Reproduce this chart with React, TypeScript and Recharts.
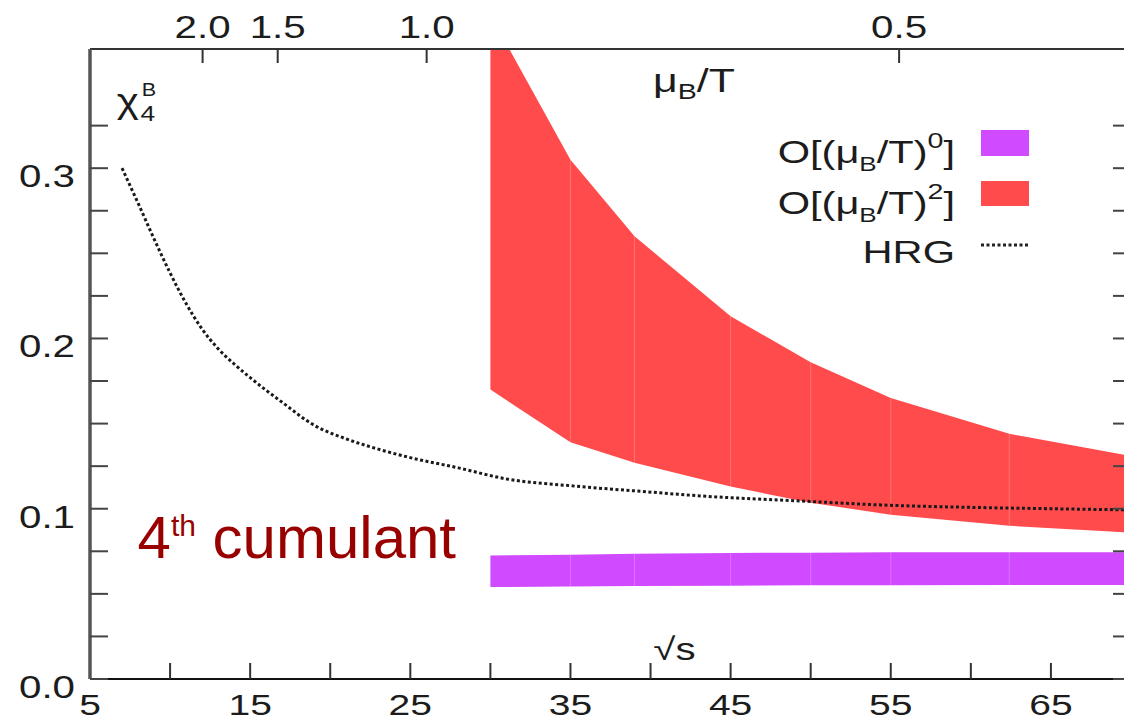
import { ComposedChart, Area, Line, XAxis, YAxis, Legend, ReferenceLine } from 'recharts';

// sqrt(s) grid of the lattice bands
const sqrtS = [30, 35, 39, 45, 50, 55, 62.4, 70];
// O[(muB/T)^2] band
const lo2 = [0.17, 0.139, 0.127, 0.113, 0.1035, 0.0965, 0.09, 0.086];
const hi2 = [0.39, 0.305, 0.26, 0.213, 0.186, 0.165, 0.144, 0.131];
// O[(muB/T)^0] band
const lo0 = [0.054, 0.0543, 0.0546, 0.0548, 0.055, 0.0551, 0.0552, 0.0552];
const hi0 = [0.0725, 0.073, 0.0735, 0.074, 0.0742, 0.0744, 0.0745, 0.0745];

// HRG curve
const hrgS = [7, 8, 9, 10, 11, 12, 13, 14, 15, 17, 19, 21, 23, 25, 28, 31, 35, 39, 44, 49, 55, 60, 65, 70];
const hrgChi = [0.3, 0.2795, 0.2585, 0.2385, 0.2205, 0.2055, 0.194, 0.185, 0.177, 0.1625, 0.149, 0.141, 0.135, 0.13, 0.124, 0.1175, 0.1135, 0.1105, 0.107, 0.1047, 0.102, 0.1008, 0.1, 0.0993];

// axes
const xTicks = [5, 10, 15, 20, 25, 30, 35, 40, 45, 50, 55, 60, 65];
const muLabels = ['2.0', '1.5', '1.0', '0.5'];
const muTickS = [12.03, 16.72, 26.02, 55.52];
const yTicks = [0, 0.025, 0.05, 0.075, 0.1, 0.125, 0.15, 0.175, 0.2, 0.225, 0.25, 0.275, 0.3, 0.325];

const W = 1124;
const H = 714;
const FONT = '"Liberation Sans", Arial, Helvetica, sans-serif';
const SX = 1.3; // the figure text is stretched horizontally
const RED = '#ff4b4c';
const PURPLE = '#d04bff';
const INK = '#1c1c1c';

const bandData = sqrtS.map((s, i) => ({ s, o0: [lo0[i], hi0[i]], o2: [lo2[i], hi2[i]] }));
const hrgData = hrgS.map((s, i) => ({ s, chi: hrgChi[i] }));

function BottomTick({ x, y, payload }: any) {
  const v = payload.value;
  return (
    <g>
      {v !== 5 && <line x1={x} y1={y} x2={x} y2={y - 16} stroke="#333" strokeWidth={2} />}
      {v % 10 === 5 && (
        <text transform={`translate(${x},${y + 35.5}) scale(${SX},1)`} textAnchor="middle" fontSize={30} fontFamily={FONT} fill={INK}>
          {v}
        </text>
      )}
    </g>
  );
}

function TopTick({ x, y, index }: any) {
  return (
    <g>
      <line x1={x} y1={y} x2={x} y2={y + 14} stroke="#333" strokeWidth={2} />
      <text transform={`translate(${x},${y - 11}) scale(${SX},1)`} textAnchor="middle" fontSize={31} fontFamily={FONT} fill={INK}>
        {muLabels[index]}
      </text>
    </g>
  );
}

function LeftTick({ x, y, payload }: any) {
  const v = payload.value;
  const major = Math.round(v * 40) % 4 === 0;
  return (
    <g>
      <line x1={x} y1={y} x2={x + 18} y2={y} stroke="#444" strokeWidth={2} />
      {major && (
        <text transform={`translate(${x - 15},${y + 19}) scale(${SX},1)`} textAnchor="end" fontSize={31} fontFamily={FONT} fill={INK}>
          {v.toFixed(1)}
        </text>
      )}
    </g>
  );
}

function RightTick({ x, y }: any) {
  return <line x1={x} y1={y} x2={x - 18} y2={y} stroke="#444" strokeWidth={2} />;
}

function LegendBox() {
  const tx = 947;
  const txt = (y: number, p: string) => (
    <text transform={`translate(${tx},${y}) scale(${SX},1)`} textAnchor="end" fontSize={32} fontFamily={FONT} fill={INK}>
      O[(μ<tspan fontSize={20} dy={8}>B</tspan>
      <tspan dy={-8}>/T)</tspan>
      <tspan fontSize={22} dy={-15}>{p}</tspan>
      <tspan dy={15}>]</tspan>
    </text>
  );
  return (
    <svg width={W} height={280}>
      {txt(155, '0')}
      <rect x={973} y={122} width={48} height={26} fill={PURPLE} />
      {txt(206, '2')}
      <rect x={973} y={173} width={48} height={25} fill={RED} />
      <text transform={`translate(${tx},255) scale(${SX},1)`} textAnchor="end" fontSize={32} fontFamily={FONT} fill={INK}>
        HRG
      </text>
      <line x1={973} y1={237} x2={1021} y2={237} stroke="#222" strokeWidth={3} strokeDasharray="3 2.5" />
    </svg>
  );
}

export default function App() {
  return (
    <div style={{ position: 'relative', width: W, height: H }}>
      <ComposedChart width={W} height={H} margin={{ top: 0, right: 0, bottom: 0, left: 0 }}>
        <XAxis
          xAxisId="b"
          dataKey="s"
          type="number"
          domain={[5, 70]}
          ticks={xTicks}
          interval={0}
          allowDataOverflow
          height={43}
          tickSize={0}
          tickMargin={0}
          tickLine={false}
          tick={BottomTick}
          axisLine={{ stroke: '#111', strokeWidth: 2 }}
        />
        <XAxis
          xAxisId="t"
          dataKey="s"
          orientation="top"
          type="number"
          domain={[5, 70]}
          ticks={muTickS}
          interval={0}
          allowDataOverflow
          height={41}
          tickSize={0}
          tickMargin={0}
          tickLine={false}
          tick={TopTick}
          axisLine={{ stroke: '#333', strokeWidth: 2 }}
        />
        <YAxis
          yAxisId="l"
          type="number"
          domain={[0, 0.37]}
          ticks={yTicks}
          interval={0}
          allowDataOverflow
          width={82}
          tickSize={0}
          tickMargin={0}
          tickLine={false}
          tick={LeftTick}
          axisLine={{ stroke: '#555', strokeWidth: 3.5 }}
        />
        <YAxis
          yAxisId="r"
          orientation="right"
          type="number"
          domain={[0, 0.37]}
          ticks={yTicks}
          interval={0}
          allowDataOverflow
          width={1}
          tickSize={0}
          tickMargin={0}
          tickLine={false}
          tick={RightTick}
          axisLine={{ stroke: '#333', strokeWidth: 2 }}
        />
        <Area
          xAxisId="b"
          yAxisId="l"
          data={bandData}
          dataKey="o2"
          name="O[(μB/T)2]"
          type="linear"
          stroke="none"
          fill={RED}
          fillOpacity={1}
          isAnimationActive={false}
          activeDot={false}
        />
        <Area
          xAxisId="t"
          yAxisId="r"
          data={bandData}
          dataKey="o0"
          name="O[(μB/T)0]"
          type="linear"
          stroke="none"
          fill={PURPLE}
          fillOpacity={1}
          isAnimationActive={false}
          activeDot={false}
        />
        {sqrtS.slice(1, -1).map((s, i) => (
          <ReferenceLine
            key={'r' + s}
            xAxisId="b"
            yAxisId="l"
            segment={[{ x: s, y: lo2[i + 1] }, { x: s, y: hi2[i + 1] }]}
            stroke="rgba(255,255,255,0.22)"
            strokeWidth={1}
          />
        ))}
        {sqrtS.slice(1, -1).map((s, i) => (
          <ReferenceLine
            key={'p' + s}
            xAxisId="b"
            yAxisId="l"
            segment={[{ x: s, y: lo0[i + 1] }, { x: s, y: hi0[i + 1] }]}
            stroke="rgba(255,255,255,0.22)"
            strokeWidth={1}
          />
        ))}
        <Line
          xAxisId="b"
          yAxisId="l"
          data={hrgData}
          dataKey="chi"
          name="HRG"
          type="monotone"
          stroke="#1a1a1a"
          strokeWidth={3}
          strokeDasharray="3 2.5"
          dot={false}
          activeDot={false}
          isAnimationActive={false}
        />
        <Legend
          verticalAlign="middle"
          align="center"
          layout="horizontal"
          content={LegendBox}
          wrapperStyle={{ position: 'absolute', left: 0, top: 0, width: W, height: 280, pointerEvents: 'none' }}
        />
      </ComposedChart>
      <svg width={W} height={H} style={{ position: 'absolute', left: 0, top: 0, pointerEvents: 'none' }}>
        <g fontFamily={FONT} fill={INK}>
          <text transform="translate(108.7,105) scale(1.2,1)" fontSize={35}>
            χ<tspan x={19.8} dy={8} fontSize={22}>4</tspan>
            <tspan x={20.8} dy={-25} fontSize={18}>B</tspan>
          </text>
          <text transform={`translate(645,84) scale(${SX},1)`} fontSize={33}>
            μ<tspan fontSize={22} dy={7}>B</tspan>
            <tspan dy={-7}>/T</tspan>
          </text>
          <text transform={`translate(645.3,652) scale(${SX},1)`} fontSize={31}>√s</text>
        </g>
        <text x={129.5} y={550} fontSize={60} fontFamily={FONT} fill="#990000">
          4<tspan fontSize={30} dy={-22}>th</tspan>
          <tspan dy={22}> cumulant</tspan>
        </text>
      </svg>
    </div>
  );
}
